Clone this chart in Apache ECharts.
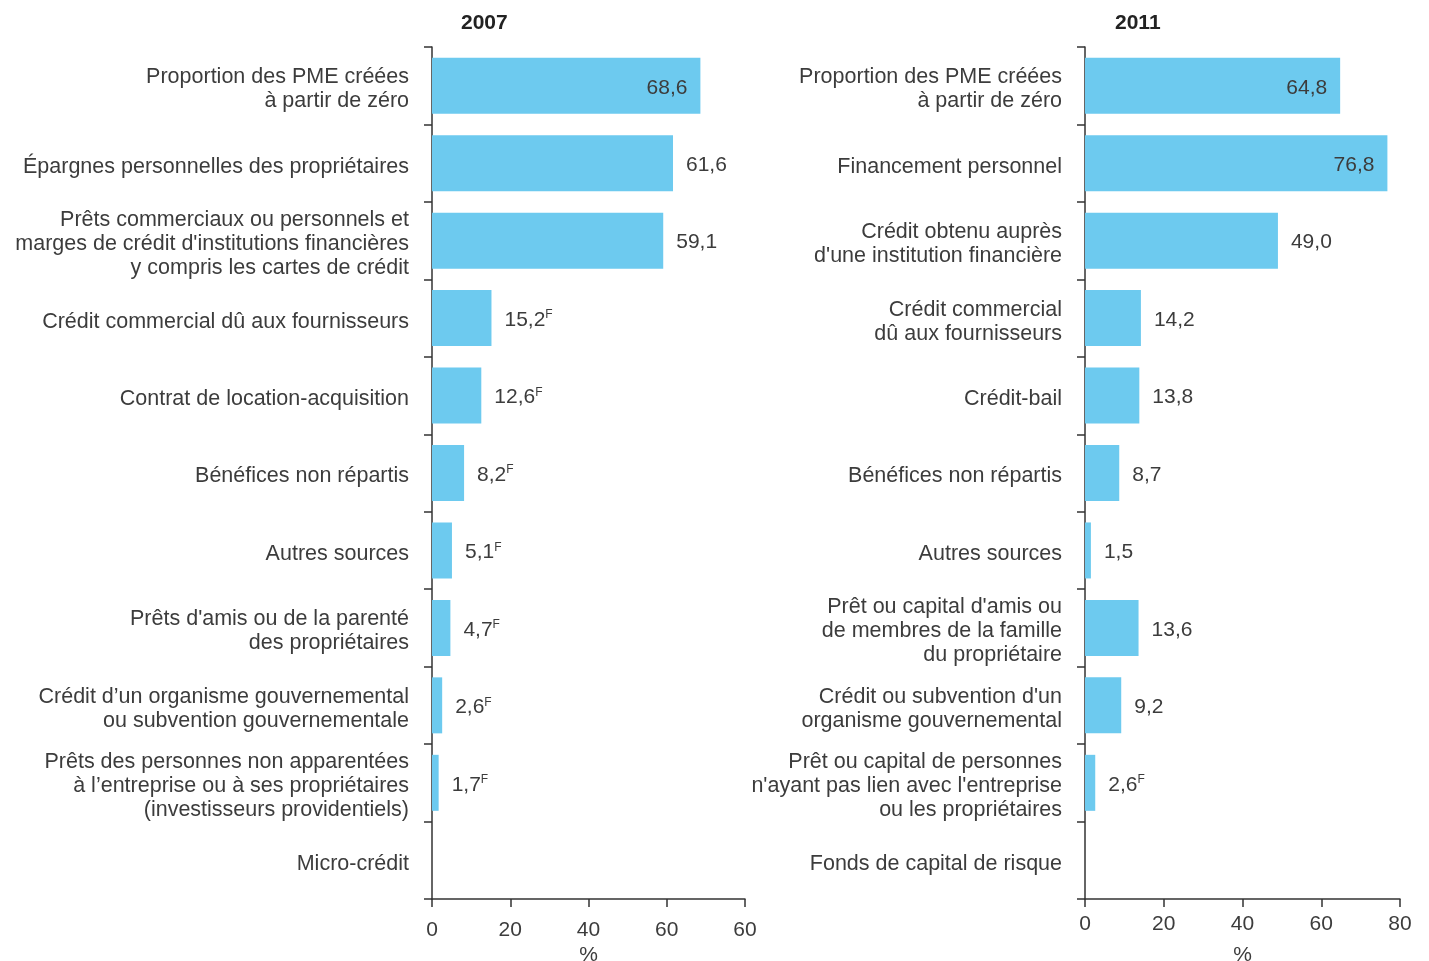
<!DOCTYPE html>
<html>
<head>
<meta charset="utf-8">
<script src="https://cdn.jsdelivr.net/npm/echarts@6/dist/echarts.min.js"></script>
<style>
  html, body { margin: 0; padding: 0; background: #fff; }
  #chart { width: 1429px; height: 961px; }
</style>
</head>
<body>
<div id="chart"></div>
<script>
// 2007
var cats2007 = [
  'Proportion des PME créées\nà partir de zéro',
  'Épargnes personnelles des propriétaires',
  'Prêts commerciaux ou personnels et\nmarges de crédit d\'institutions financières\ny compris les cartes de crédit',
  'Crédit commercial dû aux fournisseurs',
  'Contrat de location-acquisition',
  'Bénéfices non répartis',
  'Autres sources',
  'Prêts d\'amis ou de la parenté\ndes propriétaires',
  'Crédit d’un organisme gouvernemental\nou subvention gouvernementale',
  'Prêts des personnes non apparentées\nà l’entreprise ou à ses propriétaires\n(investisseurs providentiels)',
  'Micro-crédit'
]
var values2007 = [68.6, 61.6, 59.1, 15.2, 12.6, 8.2, 5.1, 4.7, 2.6, 1.7, null]
var flags2007 = [false, false, false, true, true, true, true, true, true, true, false]
var ticks2007 = ['0', '20', '40', '60', '60']

// 2011
var cats2011 = [
  'Proportion des PME créées\nà partir de zéro',
  'Financement personnel',
  'Crédit obtenu auprès\nd\'une institution financière',
  'Crédit commercial\ndû aux fournisseurs',
  'Crédit-bail',
  'Bénéfices non répartis',
  'Autres sources',
  'Prêt ou capital d\'amis ou\nde membres de la famille\ndu propriétaire',
  'Crédit ou subvention d\'un\norganisme gouvernemental',
  'Prêt ou capital de personnes\nn\'ayant pas lien avec l\'entreprise\nou les propriétaires',
  'Fonds de capital de risque'
]
var values2011 = [64.8, 76.8, 49.0, 14.2, 13.8, 8.7, 1.5, 13.6, 9.2, 2.6, null]
var flags2011 = [false, false, false, false, false, false, false, false, false, true, false]
var ticks2011 = ['0', '20', '40', '60', '80']

// barres dont l'étiquette est à l'intérieur
var inside2007 = [0]
var inside2011 = [0, 1]

var FONT = 'Liberation Sans'
var TXT = '#3c3c3c'
var BAR = '#6dcaef'
var AXIS = '#333333'

var chart = echarts.init(document.getElementById('chart'))

function fmt(v, flag) {
  return v.toFixed(1).replace('.', ',') + (flag ? '{sup|F}' : '')
}

function makeData(values, flags, inside) {
  return values.map(function (v, i) {
    if (v === null) return null
    var isIn = inside.indexOf(i) >= 0
    return {
      value: v,
      label: {
        position: isIn ? 'insideRight' : 'right',
        distance: 13,
        offset: [0, 2],
        formatter: fmt(v, flags[i])
      }
    }
  })
}

function xAxis(gridIndex, ticks, labelMargin) {
  return {
    type: 'value',
    gridIndex: gridIndex,
    min: 0,
    max: 80,
    interval: 20,
    name: '%',
    nameLocation: 'middle',
    nameGap: 46,
    nameMoveOverlap: false,
    nameTextStyle: { fontFamily: FONT, fontSize: 21, color: TXT },
    axisLine: { show: true, lineStyle: { color: AXIS, width: 1.5 } },
    axisTick: { show: true, length: 8, lineStyle: { color: AXIS, width: 1.5 } },
    splitLine: { show: false },
    axisLabel: {
      fontFamily: FONT,
      fontSize: 21,
      color: TXT,
      margin: labelMargin,
      formatter: function (v) { return ticks[Math.round(v / 20)] }
    }
  }
}

function yAxis(gridIndex, cats) {
  return {
    type: 'category',
    gridIndex: gridIndex,
    inverse: true,
    data: cats,
    axisLine: { show: true, lineStyle: { color: AXIS, width: 1.5 } },
    axisTick: { show: true, length: 8, inside: false, lineStyle: { color: AXIS, width: 1.5 } },
    axisLabel: {
      color: TXT,
      margin: 23,
      align: 'right',
      // petite ligne vide en tête pour descendre le texte de quelques pixels
      formatter: function (v) {
        return '{s| }\n' + v.split('\n').map(function (l) { return '{a|' + l + '}' }).join('\n')
      },
      rich: {
        s: { fontSize: 1, lineHeight: 7 },
        a: { fontFamily: FONT, fontSize: 21.5, color: TXT, lineHeight: 24 }
      }
    }
  }
}

function series(idx, values, flags, inside) {
  return {
    type: 'bar',
    xAxisIndex: idx,
    yAxisIndex: idx,
    barWidth: 56,
    itemStyle: { color: BAR },
    label: {
      show: true,
      fontFamily: FONT,
      fontSize: 21,
      color: TXT,
      rich: {
        sup: { fontFamily: FONT, fontSize: 12, color: TXT, padding: [0, 0, 10, 0] }
      }
    },
    data: makeData(values, flags, inside)
  }
}

var option = {
  animation: false,
  backgroundColor: '#ffffff',
  title: [
    { text: '2007', left: 461, top: 13, padding: 0,
      textStyle: { fontFamily: FONT, fontSize: 21, fontWeight: 'bold', color: '#222' } },
    { text: '2011', left: 1115, top: 13, padding: 0,
      textStyle: { fontFamily: FONT, fontSize: 21, fontWeight: 'bold', color: '#222' } }
  ],
  grid: [
    { left: 432, width: 313, top: 47, bottom: 62, outerBoundsMode: 'none', containLabel: false },
    { left: 1085, width: 315, top: 47, bottom: 62, outerBoundsMode: 'none', containLabel: false }
  ],
  xAxis: [xAxis(0, ticks2007, 21), xAxis(1, ticks2011, 15)],
  yAxis: [yAxis(0, cats2007), yAxis(1, cats2011)],
  series: [
    series(0, values2007, flags2007, inside2007),
    series(1, values2011, flags2011, inside2011)
  ]
}

chart.setOption(option)
</script>
</body>
</html>
